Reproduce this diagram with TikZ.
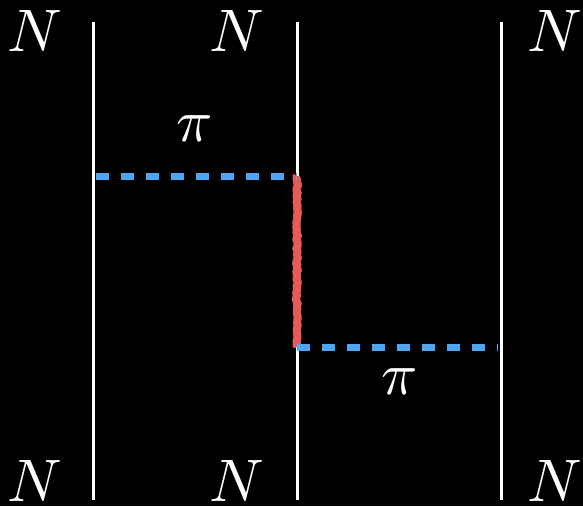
\documentclass[tikz,border=0pt]{standalone}
\usetikzlibrary{decorations.pathmorphing}
\definecolor{pblue}{RGB}{77,166,245}
\definecolor{gred}{RGB}{232,90,85}
\tikzset{
  nucleon/.style={draw=white,line width=3pt},
  pion/.style={draw=pblue,line width=7pt,dash pattern=on 13pt off 12pt},
  glue/.style={draw=gred,line width=8pt,line join=round,line cap=butt,decorate,decoration={random steps,segment length=2pt,amplitude=1pt}},
  lab/.style={text=white,scale=6,inner sep=0pt}
}
\begin{document}
\begin{tikzpicture}[x=1pt,y=-1pt]
\fill[black] (0,0) rectangle (583,506);
\useasboundingbox (0,0) rectangle (583,506);
\coordinate (a1) at (93,22); \coordinate (a2) at (93,500);
\coordinate (b1) at (297,22); \coordinate (b2) at (297,500);
\coordinate (c1) at (501,22); \coordinate (c2) at (501,500);
\coordinate (p1) at (96,176); \coordinate (v1) at (297,176);
\coordinate (v2) at (297,347); \coordinate (p2) at (498,347);
\draw[nucleon] (a1) -- (a2);
\draw[nucleon] (b1) -- (b2);
\draw[nucleon] (c1) -- (c2);
\draw[glue] (v1) -- (v2);
\draw[glue,line width=6pt] (v1) -- (v2);
\draw[pion] (p1) -- (v1);
\draw[pion] (v2) -- (p2);
\node[lab] (n1) at (35,31) {$N$};
\node[lab] (n2) at (237,31) {$N$};
\node[lab] (n3) at (555,31) {$N$};
\node[lab] (n4) at (35,481) {$N$};
\node[lab] (n5) at (237,481) {$N$};
\node[lab] (n6) at (555,481) {$N$};
\node[lab] (pi1) at (195,129) {$\pi$};
\node[lab] (pi2) at (400,382) {$\pi$};
\end{tikzpicture}
\end{document}
